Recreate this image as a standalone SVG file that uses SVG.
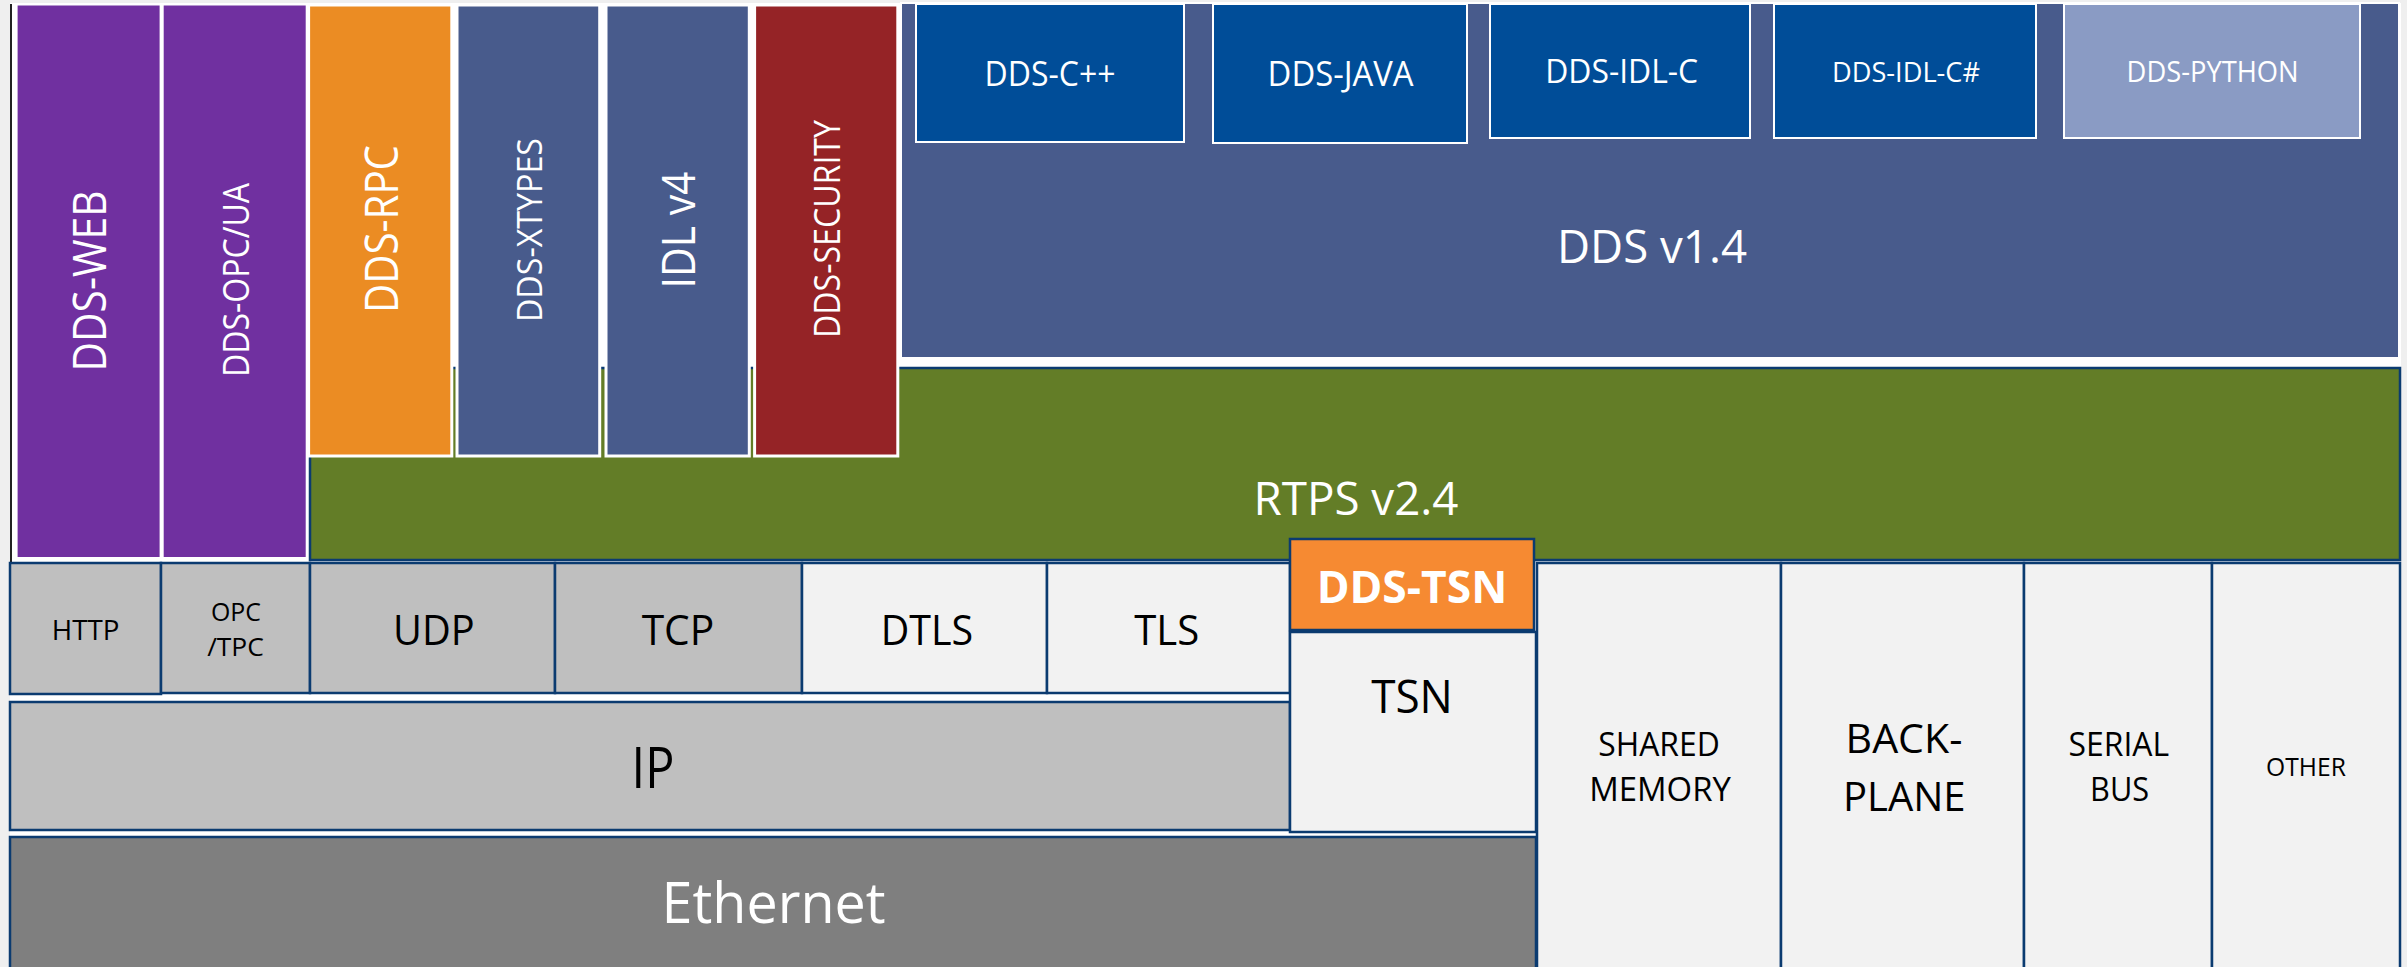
<svg xmlns="http://www.w3.org/2000/svg" width="2407" height="967" viewBox="0 0 2407 967">
<style>
text{font-family:"Open Sans","Liberation Sans",sans-serif;text-anchor:middle}
.w{fill:#ffffff}
.k{fill:#000000}
.b{font-weight:bold}
.nv{stroke:#0B3B70;stroke-width:2.5}
.ws{stroke:#ffffff;stroke-width:3}
.lang{fill:#004D98;stroke:#ffffff;stroke-width:2}
.purple{fill:#7030A0}
.slate{fill:#485B8C}
.gray{fill:#BFBFBF}
.light{fill:#F2F2F2}
</style>
<rect x="0" y="0" width="2407" height="967" fill="#EFEFEF"/>
<rect x="10" y="3" width="2391" height="964" fill="#ffffff"/>
<line x1="11" y1="4" x2="11" y2="562" stroke="#222222" stroke-width="2"/>

<g id="rtps">
<rect x="310" y="368" width="2090" height="192" fill="#637D27" class="nv"/>
<text class="w" x="1356" y="515" font-size="46" textLength="205" lengthAdjust="spacingAndGlyphs">RTPS v2.4</text>
</g>

<g id="dds-web">
<rect x="17.6" y="5.5" width="142" height="551.5" class="purple"/>
<text class="w" transform="translate(105.6,281) rotate(-90)" font-size="45" textLength="181" lengthAdjust="spacingAndGlyphs">DDS-WEB</text>
</g>
<g id="dds-opcua">
<rect x="163.7" y="5.5" width="142" height="551.5" class="purple"/>
<text class="w" transform="translate(249,280) rotate(-90)" font-size="36" textLength="194" lengthAdjust="spacingAndGlyphs">DDS-OPC/UA</text>
</g>
<g id="dds-rpc">
<rect x="308.6" y="5" width="143.2" height="451" fill="#EB8C23" class="ws"/>
<text class="w" transform="translate(398,229) rotate(-90)" font-size="46" textLength="168" lengthAdjust="spacingAndGlyphs">DDS-RPC</text>
</g>
<g id="dds-xtypes">
<rect x="457" y="5" width="142.7" height="451" class="slate ws"/>
<text class="w" transform="translate(541.7,230) rotate(-90)" font-size="35" textLength="184" lengthAdjust="spacingAndGlyphs">DDS-XTYPES</text>
</g>
<g id="idl-v4">
<rect x="606" y="5" width="143.3" height="451" class="slate ws"/>
<text class="w" transform="translate(695,230) rotate(-90)" font-size="46" textLength="117" lengthAdjust="spacingAndGlyphs">IDL v4</text>
</g>
<g id="dds-security">
<rect x="754.6" y="5" width="143.2" height="451" fill="#952326" class="ws"/>
<text class="w" transform="translate(840,229) rotate(-90)" font-size="36" textLength="218" lengthAdjust="spacingAndGlyphs">DDS-SECURITY</text>
</g>

<g id="dds-v14">
<rect x="901" y="3" width="1498" height="355" class="slate" stroke="#ffffff" stroke-width="2"/>
<text class="w" x="1652" y="263" font-size="46" textLength="190" lengthAdjust="spacingAndGlyphs">DDS v1.4</text>
</g>
<g id="dds-cpp">
<rect x="916" y="4" width="268" height="138" class="lang"/>
<text class="w" x="1050" y="86" font-size="34" textLength="131" lengthAdjust="spacingAndGlyphs">DDS-C++</text>
</g>
<g id="dds-java">
<rect x="1213" y="4" width="254" height="139" class="lang"/>
<text class="w" x="1340.6" y="86" font-size="34" textLength="146" lengthAdjust="spacingAndGlyphs">DDS-JAVA</text>
</g>
<g id="dds-idl-c">
<rect x="1490" y="4" width="260" height="134" class="lang"/>
<text class="w" x="1621.7" y="83.3" font-size="32" textLength="153" lengthAdjust="spacingAndGlyphs">DDS-IDL-C</text>
</g>
<g id="dds-idl-cs">
<rect x="1774" y="4" width="262" height="134" class="lang"/>
<text class="w" x="1906" y="81.7" font-size="28" textLength="148" lengthAdjust="spacingAndGlyphs">DDS-IDL-C#</text>
</g>
<g id="dds-python">
<rect x="2064" y="4" width="296" height="134" fill="#8A9BC4" stroke="#ffffff" stroke-width="2"/>
<text class="w" x="2212.6" y="82.3" font-size="29" textLength="172" lengthAdjust="spacingAndGlyphs">DDS-PYTHON</text>
</g>

<g id="http">
<rect x="10" y="563" width="151" height="131" class="gray nv"/>
<text class="k" x="85.6" y="640" font-size="28" textLength="67.7" lengthAdjust="spacingAndGlyphs">HTTP</text>
</g>
<g id="opc-tpc">
<rect x="161" y="563" width="149" height="130" class="gray nv"/>
<text class="k" x="236" y="620.7" font-size="25" textLength="50" lengthAdjust="spacingAndGlyphs">OPC</text>
<text class="k" x="235.5" y="655.7" font-size="25" textLength="56.7" lengthAdjust="spacingAndGlyphs">/TPC</text>
</g>
<g id="udp">
<rect x="310" y="563" width="245" height="130" class="gray nv"/>
<text class="k" x="433.8" y="645" font-size="42" textLength="81.6" lengthAdjust="spacingAndGlyphs">UDP</text>
</g>
<g id="tcp">
<rect x="555" y="563" width="247" height="130" class="gray nv"/>
<text class="k" x="678" y="645" font-size="42" textLength="72.6" lengthAdjust="spacingAndGlyphs">TCP</text>
</g>
<g id="dtls">
<rect x="802" y="563" width="245" height="130" class="light nv"/>
<text class="k" x="927" y="645" font-size="42" textLength="92.4" lengthAdjust="spacingAndGlyphs">DTLS</text>
</g>
<g id="tls">
<rect x="1047" y="563" width="243" height="130" class="light nv"/>
<text class="k" x="1166.7" y="645" font-size="42" textLength="65" lengthAdjust="spacingAndGlyphs">TLS</text>
</g>
<g id="ip">
<rect x="10" y="702" width="1280" height="128" class="gray nv"/>
<text class="k" x="653" y="788" font-size="56" textLength="42.8" lengthAdjust="spacingAndGlyphs">IP</text>
</g>
<g id="tsn">
<rect x="1290" y="632" width="246" height="200" class="light nv"/>
<text class="k" x="1412" y="713.3" font-size="46" textLength="81.7" lengthAdjust="spacingAndGlyphs">TSN</text>
</g>
<g id="dds-tsn">
<rect x="1290" y="539" width="244" height="91" fill="#F68A32" class="nv"/>
<text class="w b" x="1412" y="603.3" font-size="44" textLength="190.7" lengthAdjust="spacingAndGlyphs">DDS-TSN</text>
</g>
<g id="ethernet">
<rect x="10" y="837" width="1526" height="132" fill="#7F7F7F" class="nv"/>
<text class="w" x="773.6" y="923.3" font-size="56" textLength="224" lengthAdjust="spacingAndGlyphs">Ethernet</text>
</g>
<g id="shared-memory">
<rect x="1537" y="563" width="244" height="406" class="light nv"/>
<text class="k" x="1659" y="756" font-size="32" textLength="121.5" lengthAdjust="spacingAndGlyphs">SHARED</text>
<text class="k" x="1660" y="800.7" font-size="32" textLength="141.7" lengthAdjust="spacingAndGlyphs">MEMORY</text>
</g>
<g id="backplane">
<rect x="1781" y="563" width="243" height="406" class="light nv"/>
<text class="k" x="1904" y="753.3" font-size="40" textLength="116.8" lengthAdjust="spacingAndGlyphs">BACK-</text>
<text class="k" x="1904.3" y="810.7" font-size="40" textLength="122.6" lengthAdjust="spacingAndGlyphs">PLANE</text>
</g>
<g id="serial-bus">
<rect x="2024" y="563" width="188" height="406" class="light nv"/>
<text class="k" x="2118.8" y="756" font-size="32" textLength="100.6" lengthAdjust="spacingAndGlyphs">SERIAL</text>
<text class="k" x="2119.6" y="800.7" font-size="32" textLength="59" lengthAdjust="spacingAndGlyphs">BUS</text>
</g>
<g id="other">
<rect x="2212" y="563" width="188" height="406" class="light nv"/>
<text class="k" x="2306" y="776" font-size="26" textLength="79.8" lengthAdjust="spacingAndGlyphs">OTHER</text>
</g>
<g id="connectors"></g>
</svg>
